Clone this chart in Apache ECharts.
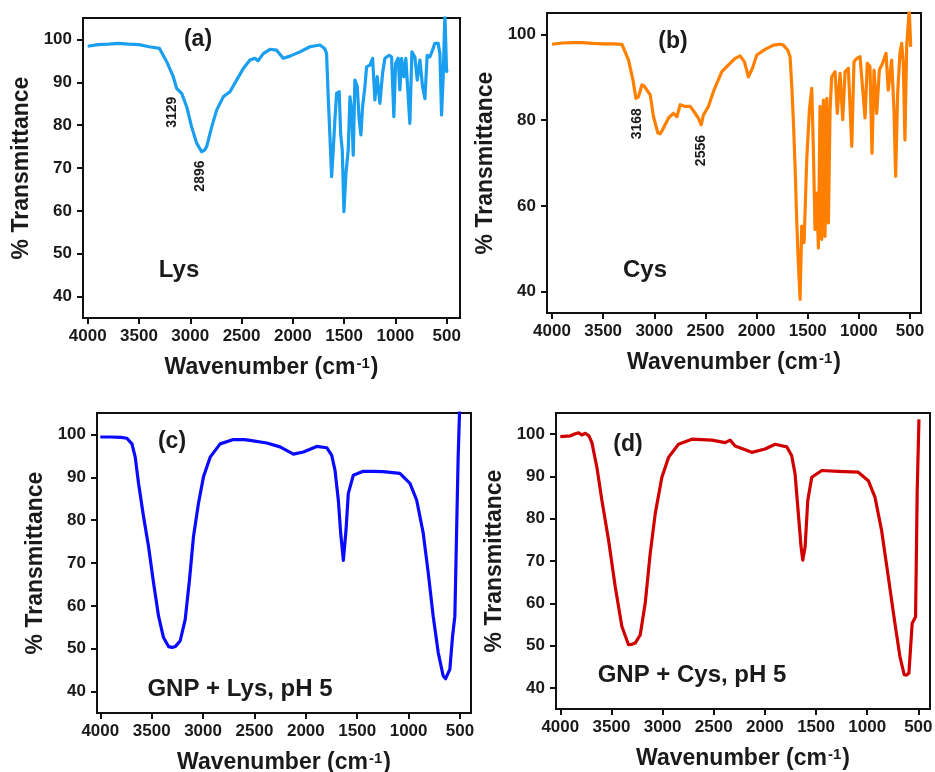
<!DOCTYPE html>
<html>
<head>
<meta charset="utf-8">
<title>FTIR spectra</title>
<script src="https://cdn.jsdelivr.net/npm/echarts@6/dist/echarts.min.js"></script>
<style>
  html, body { margin: 0; padding: 0; background: #fff; }
  #chart { width: 935px; height: 772px; }
</style>
</head>
<body>
<div id="chart"></div>
<script>
// ---- Spectra: wavenumber (cm-1) and % transmittance ----
const lysWave = [4000,3900,3800,3700,3600,3500,3400,3300,3230,3166,3133,3084,3035,2987,2938,2889,2860,2840,2791,2743,2678,2613,2548,2483,2418,2369,2340,2288,2223,2158,2094,2028,1931,1833,1736,1690,1671,1655,1638,1622,1606,1590,1573,1548,1534,1518,1502,1482,1460,1443,1427,1411,1395,1372,1353,1336,1320,1297,1281,1248,1222,1200,1177,1151,1125,1102,1060,1037,1015,998,973,956,940,917,898,875,859,839,810,787,761,735,712,690,664,638,615,583,566,550,534,517,501,495];
const lysT    = [98.4,98.8,98.9,99.1,98.9,98.8,98.3,97.9,94.8,91.3,88.6,87.4,84.3,79.6,75.8,73.8,74.2,75.0,79.6,83.5,86.6,87.8,90.5,93.2,95.2,95.6,95.0,96.7,97.7,97.5,95.6,96.1,97.1,98.3,98.7,97.9,96.7,86.6,77.3,68.0,74.2,81.2,87.4,87.8,78.1,74.2,59.8,68.8,74.2,86.6,83.5,73.0,90.5,89.0,81.2,77.7,84.3,89.0,93.6,94.0,95.6,85.9,91.3,85.1,92.1,95.6,96.3,95.9,82.0,94.4,95.6,88.2,95.6,91.3,95.6,86.6,80.4,97.1,95.9,90.5,95.2,89.0,86.2,96.3,95.9,97.5,99.1,99.1,96.7,82.4,91.3,106,92.5,93.0];

const cysWave = [4000,3900,3800,3707,3600,3500,3400,3316,3252,3209,3180,3170,3154,3121,3100,3082,3040,3008,2965,2945,2920,2861,2813,2779,2747,2698,2649,2601,2570,2556,2542,2520,2471,2422,2340,2275,2210,2161,2119,2080,2041,1998,1917,1836,1770,1738,1695,1673,1656,1641,1624,1607,1592,1575,1559,1536,1510,1484,1461,1445,1429,1412,1396,1380,1363,1347,1331,1314,1298,1282,1266,1233,1211,1184,1158,1135,1103,1070,1048,1021,989,940,918,892,872,852,826,800,768,735,713,680,657,641,621,599,582,566,550,533,508,494];
const cysT    = [97.7,98.0,98.1,98.1,97.9,97.8,97.8,97.7,94.0,89.4,85.1,84.8,85.5,88.2,88.0,87.8,85.9,80.8,77.0,76.8,77.7,80.5,81.6,80.8,83.6,83.2,83.2,81.6,80.5,80.5,78.9,81.2,83.2,86.7,91.3,92.9,94.4,95.0,93.6,90.1,92.1,95.2,96.5,97.5,97.7,97.5,96.3,94.8,87.8,80.1,69.2,56.0,46.7,38.2,55.3,51.4,70.8,82.4,87.4,73.1,54.5,63.0,50.2,83.2,52.2,84.7,52.9,85.1,56.0,82.4,90.1,91.3,81.6,90.9,80.1,91.3,92.1,73.9,93.6,94.4,94.8,80.5,93.3,92.5,72.3,91.7,81.6,91.7,93.3,95.6,87.0,94.0,82.4,66.9,86.3,95.6,97.9,93.3,75.4,97.1,106,97.1];

const gnpLysWave = [4000,3900,3800,3741,3692,3660,3628,3579,3531,3482,3433,3385,3336,3300,3271,3223,3174,3132,3093,3045,2996,2931,2834,2705,2600,2542,2380,2251,2121,2024,1894,1797,1748,1716,1684,1661,1635,1609,1587,1538,1441,1350,1247,1085,987,922,858,809,761,712,664,640,621,599,572,550,534,518,501];
const gnpLysT    = [99.4,99.4,99.3,99.1,97.8,94.7,88.6,80.8,73.9,65.4,57.6,52.6,50.5,50.3,50.5,51.8,56.8,66.1,76.2,83.9,90.1,94.7,97.8,98.8,98.8,98.6,98.0,97.1,95.4,95.9,97.2,96.9,95.1,91.6,84.7,77.0,70.6,77.7,86.2,90.5,91.4,91.4,91.3,90.9,88.6,84.7,77.0,67.7,57.6,49.1,43.7,43.0,43.3,45.2,53.0,57.6,76.2,94.7,108];

const gnpCysWave = [4000,3900,3854,3820,3790,3756,3720,3691,3642,3593,3528,3463,3398,3333,3300,3268,3219,3170,3121,3072,3007,2942,2845,2714,2519,2389,2340,2291,2128,1998,1900,1786,1738,1705,1673,1646,1630,1607,1581,1542,1444,1282,1087,989,924,859,794,729,680,638,615,592,573,560,527,511,494];
const gnpCysT    = [99.4,99.6,100.1,100.3,99.8,100.2,99.6,98.0,92.1,84.3,74.9,63.9,54.5,50.2,50.3,50.6,52.5,60.0,71.8,81.2,89.8,94.5,97.6,98.8,98.6,98.0,98.6,97.2,95.7,96.5,97.6,97.0,94.9,90.6,81.2,73.3,70.2,73.3,84.3,89.8,91.4,91.2,91.0,89.0,85.1,77.2,66.3,55.3,47.4,43.1,43.0,43.5,50.6,55.3,56.8,86.7,103.5];

// Tick values
const xTicks = [4000, 3500, 3000, 2500, 2000, 1500, 1000, 500];
const yTicksFine = [40, 50, 60, 70, 80, 90, 100];
const yTicksCoarse = [40, 60, 80, 100];

// Band assignments labelled on the amino-acid spectra
const lysPeaks = [3129, 2896];
const cysPeaks = [3168, 2556];

// ---- Layout / styling ----
const FONT = '"Liberation Sans", Arial, sans-serif';
const INK = '#1a1a1a';

const panels = [
  { wave: lysWave, t: lysT, color: '#1a9ff0', grid: { left: 83, top: 18, width: 377, height: 300 }, xMin: 370, xMax: 4046, yTicks: yTicksFine },
  { wave: cysWave, t: cysT, color: '#ff8000', grid: { left: 547, top: 13, width: 374, height: 300 }, xMin: 393, xMax: 4049, yTicks: yTicksCoarse },
  { wave: gnpLysWave, t: gnpLysT, color: '#0a0aff', grid: { left: 97, top: 413, width: 374, height: 300 }, xMin: 393, xMax: 4032, yTicks: yTicksFine },
  { wave: gnpCysWave, t: gnpCysT, color: '#d00000', grid: { left: 556, top: 413, width: 374, height: 296 }, xMin: 386, xMax: 4042, yTicks: yTicksFine }
];

const tickText = { fontFamily: FONT, fontWeight: 'bold', fontSize: 17, color: INK, formatter: v => String(v) };

const option = {
  backgroundColor: '#ffffff',
  animation: false,
  grid: panels.map(p => Object.assign({
    show: true, borderColor: '#111', borderWidth: 2, backgroundColor: 'transparent',
    containLabel: false, outerBoundsMode: 'none'
  }, p.grid)),
  xAxis: panels.map((p, i) => ({
    type: 'value', gridIndex: i, inverse: true, min: p.xMin, max: p.xMax,
    splitLine: { show: false },
    axisLine: { show: true, onZero: false, lineStyle: { color: '#111', width: 2 } },
    axisTick: { show: true, inside: false, length: 6, customValues: xTicks, lineStyle: { color: '#111', width: 2 } },
    axisLabel: Object.assign({ customValues: xTicks, margin: 10 }, tickText),
    name: '{n|Wavenumber (cm}{s|-1}{n|)}',
    nameLocation: 'middle', nameGap: 38,
    nameTextStyle: {
      rich: {
        n: { fontFamily: FONT, fontWeight: 'bold', fontSize: 23, color: INK },
        s: { fontFamily: FONT, fontWeight: 'bold', fontSize: 15, color: INK, verticalAlign: 'top', padding: [0, 1, 0, 1] }
      }
    }
  })),
  yAxis: panels.map((p, i) => ({
    type: 'value', gridIndex: i, min: 35, max: 105,
    splitLine: { show: false },
    axisLine: { show: true, onZero: false, lineStyle: { color: '#111', width: 2 } },
    axisTick: { show: true, inside: false, length: 6, customValues: p.yTicks, lineStyle: { color: '#111', width: 2 } },
    axisLabel: Object.assign({ customValues: p.yTicks, margin: 11 }, tickText),
    name: '% Transmittance',
    nameLocation: 'middle', nameGap: 50,
    nameTextStyle: { fontFamily: FONT, fontWeight: 'bold', fontSize: 23, color: INK }
  })),
  series: panels.map((p, i) => ({
    type: 'line', xAxisIndex: i, yAxisIndex: i,
    data: p.wave.map((w, k) => [w, p.t[k]]),
    showSymbol: false, symbol: 'none', clip: true,
    lineStyle: { color: p.color, width: 3.2, join: 'round' }
  }))
};

const chart = echarts.init(document.getElementById('chart'), null, { renderer: 'canvas' });
chart.setOption(option);

// Panel captions and sample names
const captionStyle = (text, size) => ({ text, fontFamily: FONT, fontWeight: 'bold', fontSize: size, fill: INK, align: 'center', verticalAlign: 'middle' });
const graphics = [
  { type: 'text', x: 198, y: 40, style: captionStyle('(a)', 23) },
  { type: 'text', x: 673, y: 42, style: captionStyle('(b)', 23) },
  { type: 'text', x: 172, y: 442, style: captionStyle('(c)', 23) },
  { type: 'text', x: 628, y: 445, style: captionStyle('(d)', 23) },
  { type: 'text', x: 179, y: 270, style: captionStyle('Lys', 24) },
  { type: 'text', x: 645, y: 270, style: captionStyle('Cys', 24) },
  { type: 'text', x: 240, y: 689, style: captionStyle('GNP + Lys, pH 5', 24) },
  { type: 'text', x: 692, y: 675, style: captionStyle('GNP + Cys, pH 5', 24) }
];

// Transmittance of a spectrum at a given wavenumber (linear between readings)
function valueAt(wave, t, w) {
  for (let k = 0; k < wave.length - 1; k++) {
    const a = wave[k], b = wave[k + 1];
    if ((w <= a && w >= b) || (w >= a && w <= b)) {
      const f = (w - a) / (b - a);
      return t[k] + f * (t[k + 1] - t[k]);
    }
  }
  return t[t.length - 1];
}

// Vertical band labels just below each marked position on the curve
const peakLayout = { 3129: [-5, 8], 2896: [-1, 10], 3168: [0, 9], 2556: [1, 17] };
function addPeakLabels(panelIndex, peaks) {
  const p = panels[panelIndex];
  peaks.forEach(w => {
    const v = valueAt(p.wave, p.t, w);
    const px = chart.convertToPixel({ xAxisIndex: panelIndex, yAxisIndex: panelIndex }, [w, v]);
    const off = peakLayout[w];
    graphics.push({
      type: 'text', x: px[0] + off[0], y: px[1] + off[1], rotation: Math.PI / 2,
      style: { text: String(w), fontFamily: FONT, fontWeight: 'bold', fontSize: 14, fill: INK, align: 'right', verticalAlign: 'middle' }
    });
  });
}
addPeakLabels(0, lysPeaks);
addPeakLabels(1, cysPeaks);

chart.setOption({ graphic: graphics });
</script>
</body>
</html>
